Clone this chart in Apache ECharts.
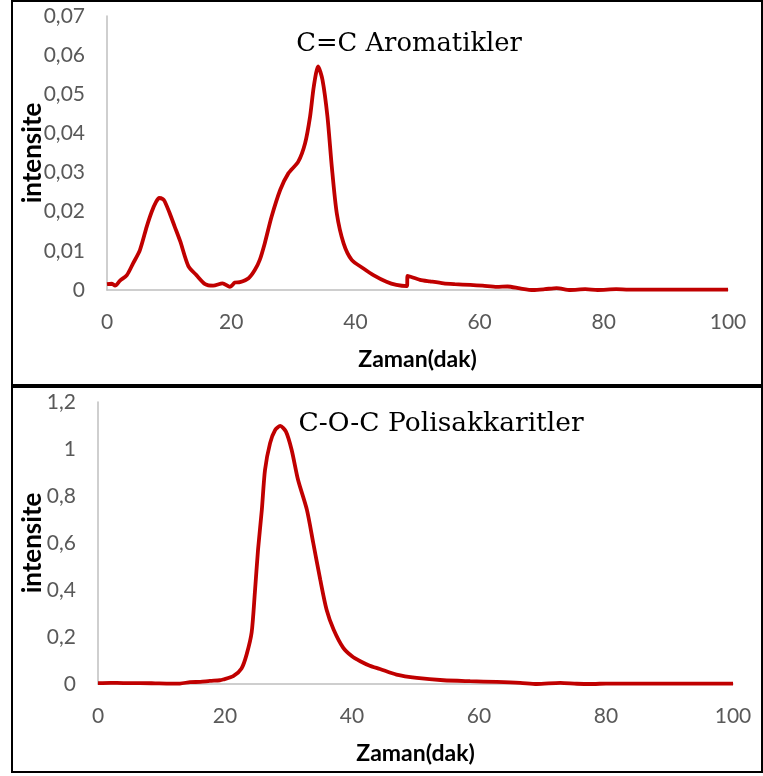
<!DOCTYPE html>
<html>
<head>
<meta charset="utf-8">
<script src="https://cdn.jsdelivr.net/npm/echarts@6/dist/echarts.min.js"></script>
<style>
  html, body { margin: 0; padding: 0; background: #fff; }
  #chart { width: 763px; height: 776px; }
</style>
</head>
<body>
<div id="chart"></div>
<script>
// Time axis (minutes) shared by both panels
const timeTicks = [0, 20, 40, 60, 80, 100];

// C=C aromatics intensity: [time (dak), intensity]
const aromaticSeries = [
  [0, 0.0015], [0.8, 0.0016], [1.3, 0.0011], [2.1, 0.0024], [3.2, 0.0038],
  [4.2, 0.0068], [5.3, 0.0102], [6.4, 0.0162], [7.2, 0.0200], [7.9, 0.0225],
  [8.4, 0.0235], [9.0, 0.0232], [9.3, 0.0226], [10.1, 0.0196], [10.9, 0.0162],
  [11.8, 0.0124], [13.1, 0.0061], [14.4, 0.0038], [15.8, 0.0015], [17.1, 0.0011],
  [18.6, 0.0017], [19.8, 0.0008], [20.6, 0.0019], [21.4, 0.0020], [22.8, 0.0030],
  [23.8, 0.0051], [24.6, 0.0077], [25.4, 0.0119], [26.5, 0.0187], [27.9, 0.0256],
  [29.2, 0.0298], [30.8, 0.0328], [31.9, 0.0375], [32.7, 0.0443], [33.3, 0.0520],
  [34.0, 0.0571], [34.7, 0.0537], [35.5, 0.0443], [36.2, 0.0315], [37.0, 0.0196],
  [38.1, 0.0119], [39.4, 0.0077], [41.3, 0.0055], [42.9, 0.0038], [45.0, 0.0021],
  [46.6, 0.0013], [48.3, 0.0010], [48.4, 0.0036], [50.4, 0.0026], [52.0, 0.0022],
  [54.2, 0.0017], [56.0, 0.0015], [58.5, 0.0013], [60.5, 0.0011], [62.8, 0.0008],
  [64.5, 0.0009], [66.5, 0.0004], [68.6, 0.0000], [70.5, 0.0002], [72.4, 0.0005],
  [74.6, 0.0000], [77.0, 0.0002], [79.0, 0.0000], [82.0, 0.0002], [84.0, 0.0001],
  [100, 0.0001]
];

// C-O-C polysaccharides intensity: [time (dak), intensity]
const polysaccharideSeries = [
  [0, 0.004], [2, 0.005], [4, 0.004], [6.6, 0.004], [9, 0.003], [11, 0.002],
  [12.9, 0.002], [14.5, 0.008], [16.1, 0.009], [17.6, 0.013], [19.2, 0.016],
  [19.7, 0.019], [21.3, 0.033], [22.6, 0.066], [23.4, 0.125], [24.2, 0.22],
  [24.7, 0.388], [25.2, 0.571], [25.8, 0.741], [26.3, 0.911], [27.1, 1.025],
  [27.9, 1.081], [28.7, 1.098], [29.6, 1.074], [30.5, 0.996], [31.5, 0.869],
  [32.9, 0.741], [33.9, 0.600], [35.0, 0.444], [36.0, 0.316], [37.1, 0.232],
  [38.6, 0.155], [40.0, 0.118], [41.3, 0.097], [42.8, 0.078], [44.4, 0.064],
  [47.0, 0.040], [50.2, 0.026], [54.4, 0.016], [58.6, 0.012], [62.8, 0.009],
  [66.5, 0.005], [69.1, 0.0], [72.8, 0.005], [75.4, 0.001], [78, 0.0],
  [80, 0.002], [100, 0.002]
];

const panelTitles = ['C=C Aromatikler', 'C-O-C Polisakkaritler'];
const xTitle = 'Zaman(dak)';
const yTitle = 'intensite';

const commaFmt = v => (v === 0 ? '0' : String(+v.toFixed(3)).replace('.', ','));

const labelFont = { color: '#595959', fontFamily: 'Lato', fontSize: 21 };
const xNameFont = { color: '#000', fontFamily: 'Lato', fontWeight: 'bold', fontSize: 23 };
const yNameFont = { color: '#000', fontFamily: 'Lato', fontWeight: 'bold', fontSize: 26 };
const axisLine = { show: true, lineStyle: { color: '#BFBFBF', width: 1.5 } };

function xAxisFor(gridIndex) {
  return {
    type: 'value', gridIndex, min: timeTicks[0], max: timeTicks[timeTicks.length - 1], interval: 20,
    axisLine, axisTick: { show: false }, splitLine: { show: false },
    axisLabel: Object.assign({ margin: 22 }, labelFont),
    name: xTitle, nameLocation: 'middle', nameGap: 58, nameTextStyle: xNameFont,
    nameMoveOverlap: false
  };
}
function yAxisFor(gridIndex, max, interval, gap) {
  return {
    type: 'value', gridIndex, min: 0, max, interval,
    axisLine, axisTick: { show: false }, splitLine: { show: false },
    axisLabel: Object.assign({ margin: 22, formatter: commaFmt }, labelFont),
    name: yTitle, nameLocation: 'middle', nameGap: gap, nameTextStyle: yNameFont,
    nameMoveOverlap: false
  };
}

const chart = echarts.init(document.getElementById('chart'), null, { renderer: 'canvas' });
chart.setOption({
  animation: false,
  backgroundColor: '#fff',
  grid: [
    { left: 107, right: 35, top: 16, bottom: 486 },
    { left: 98, right: 30, top: 402, bottom: 92 }
  ],
  xAxis: [xAxisFor(0), xAxisFor(1)],
  yAxis: [yAxisFor(0, 0.07, 0.01, 61), yAxisFor(1, 1.2, 0.2, 52)],
  graphic: [
    { type: 'rect', shape: { x: 12, y: 1, width: 750, height: 384 }, style: { fill: 'none', stroke: '#000', lineWidth: 2 } },
    { type: 'rect', shape: { x: 12, y: 387, width: 750, height: 385 }, style: { fill: 'none', stroke: '#000', lineWidth: 2 } },
    { type: 'text', x: 409, y: 44, style: { text: panelTitles[0], fill: '#000', font: '25.8px "DejaVu Serif"', textAlign: 'center', textVerticalAlign: 'middle' } },
    { type: 'text', x: 441, y: 424, style: { text: panelTitles[1], fill: '#000', font: '26.5px "DejaVu Serif"', textAlign: 'center', textVerticalAlign: 'middle' } }
  ],
  series: [
    { type: 'line', xAxisIndex: 0, yAxisIndex: 0, data: aromaticSeries, showSymbol: false, smooth: 0.25,
      lineStyle: { color: '#C00000', width: 3.8 } },
    { type: 'line', xAxisIndex: 1, yAxisIndex: 1, data: polysaccharideSeries, showSymbol: false, smooth: 0.25,
      lineStyle: { color: '#C00000', width: 3.8 } }
  ]
});
</script>
</body>
</html>
